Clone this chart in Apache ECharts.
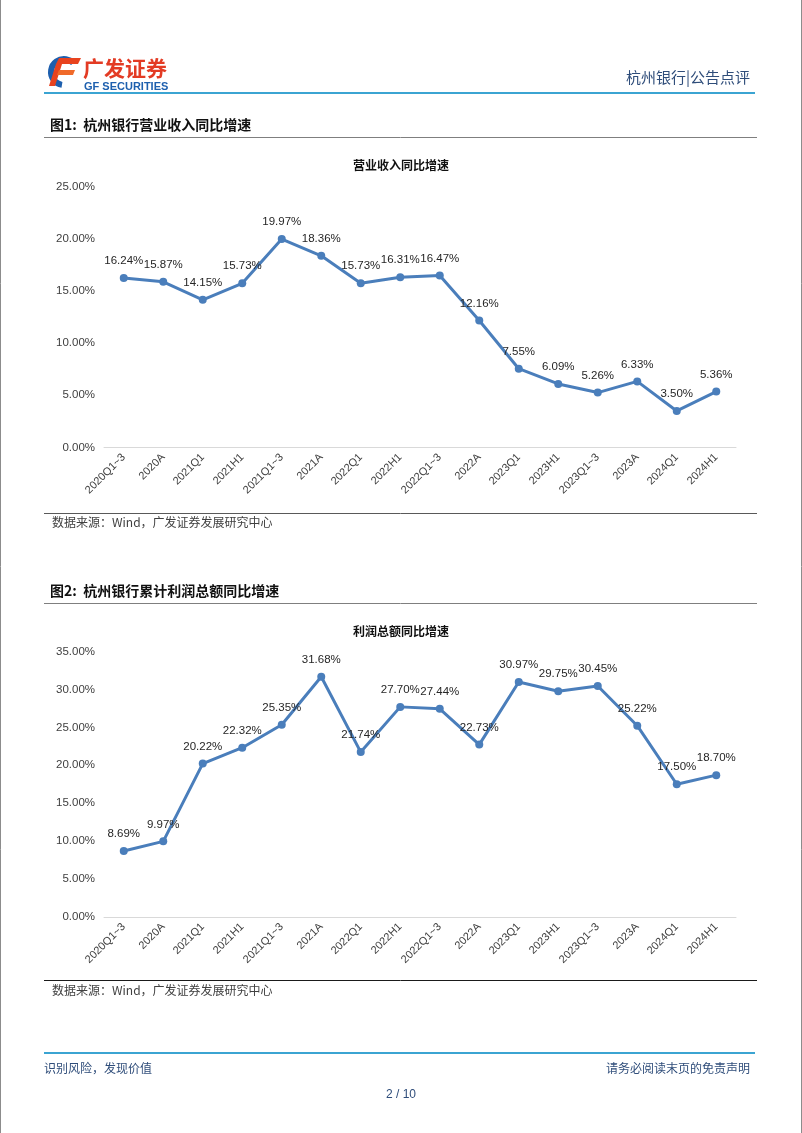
<!DOCTYPE html>
<html>
<head>
<meta charset="utf-8">
<script src="https://cdn.jsdelivr.net/npm/echarts@6/dist/echarts.min.js"></script>
<style>
html,body{margin:0;padding:0;background:#fff;}
#page{width:802px;height:1133px;}
</style>
</head>
<body>
<div id="page"></div>
<script>
// ---- data ----
var categories = ['2020Q1~3','2020A','2021Q1','2021H1','2021Q1~3','2021A','2022Q1','2022H1','2022Q1~3','2022A','2023Q1','2023H1','2023Q1~3','2023A','2024Q1','2024H1'];
var revenueGrowth = [16.24,15.87,14.15,15.73,19.97,18.36,15.73,16.31,16.47,12.16,7.55,6.09,5.26,6.33,3.50,5.36];
var profitGrowth = [8.69,9.97,20.22,22.32,25.35,31.68,21.74,27.70,27.44,22.73,30.97,29.75,30.45,25.22,17.50,18.70];
var chart1Title = '营业收入同比增速';
var chart2Title = '利润总额同比增速';
var fig1Heading = '图1:  杭州银行营业收入同比增速';
var fig2Heading = '图2:  杭州银行累计利润总额同比增速';
var sourceText = '数据来源：Wind，广发证券发展研究中心';

var LINE = '#4a7ebb';
var SANS = '"Liberation Sans", Arial, sans-serif';
var CJK = '"Noto Sans CJK SC", sans-serif';

function pct(v){ return v.toFixed(2) + '%'; }

function xAxisCfg(gi){
  return {
    type:'category', gridIndex:gi, data:categories, boundaryGap:true,
    axisLine:{show:true, lineStyle:{color:'#d9d9d9', width:1}},
    axisTick:{show:false},
    axisLabel:{interval:0, rotate:45, fontSize:11, color:'#404040', fontFamily:SANS, margin:8}
  };
}
function yAxisCfg(gi, max){
  return {
    type:'value', gridIndex:gi, min:0, max:max, interval:5,
    splitLine:{show:false}, axisLine:{show:false}, axisTick:{show:false},
    axisLabel:{formatter:function(v){return pct(v);}, fontSize:11.5, color:'#404040', fontFamily:SANS, margin:9}
  };
}
function seriesCfg(i, data){
  return {
    type:'line', xAxisIndex:i, yAxisIndex:i, data:data,
    symbol:'circle', symbolSize:8, showAllSymbol:true,
    lineStyle:{color:LINE, width:3}, itemStyle:{color:LINE},
    label:{show:true, position:'top', distance:7, formatter:function(p){return pct(p.value);},
      fontSize:11.5, color:'#262626', fontFamily:SANS},
    animation:false
  };
}

var chart = echarts.init(document.getElementById('page'), null, {renderer:'canvas'});

var graphics = [
  // page borders
  {type:'line', shape:{x1:0.5,y1:0,x2:0.5,y2:1133}, style:{stroke:'#8c8c8c', lineWidth:1}},
  {type:'line', shape:{x1:801.5,y1:0,x2:801.5,y2:1133}, style:{stroke:'#8c8c8c', lineWidth:1}},
  // logo icon
  {type:'sector', shape:{cx:64, cy:72, r:16, r0:10, startAngle:Math.PI*0.55, endAngle:Math.PI*1.75}, style:{fill:'#1d5fae'}},
  {type:'polygon', shape:{points:[[59,58],[81,58],[78,64],[56,64]]}, style:{fill:'#e8431f'}},
  {type:'polygon', shape:{points:[[56,64],[62,64],[55,86],[49,86]]}, style:{fill:'#e8431f'}},
  {type:'polygon', shape:{points:[[59,70],[75,70],[73,75],[57,75]]}, style:{fill:'#f06a2a'}},
  {type:'text', left:83, top:58, style:{text:'广发证券', font:'bold 21px "Noto Sans CJK SC"', fill:'#e33b24'}},
  {type:'text', left:84, top:81, style:{text:'GF SECURITIES', font:'bold 11px "Liberation Sans", Arial', fill:'#1d5fae'}},
  // header right
  {type:'text', right:52, top:70, style:{text:'杭州银行|公告点评', font:'15px "Noto Sans CJK SC"', fill:'#2f4d7a'}},
  {type:'line', shape:{x1:44,y1:93,x2:755,y2:93}, style:{stroke:'#3ba4d2', lineWidth:2}},
  // fig1 heading
  {type:'text', left:50, top:118, style:{text:fig1Heading, font:'bold 14px "Noto Sans CJK SC"', fill:'#111'}},
  {type:'line', shape:{x1:44,y1:137.5,x2:757,y2:137.5}, style:{stroke:'#7f7f7f', lineWidth:1}},
  {type:'line', shape:{x1:44,y1:513.5,x2:757,y2:513.5}, style:{stroke:'#595959', lineWidth:1}},
  {type:'text', left:52, top:516, style:{text:sourceText, font:'12px "Noto Sans CJK SC"', fill:'#404040'}},
  // fig2 heading
  {type:'text', left:50, top:584, style:{text:fig2Heading, font:'bold 14px "Noto Sans CJK SC"', fill:'#111'}},
  {type:'line', shape:{x1:44,y1:603.5,x2:757,y2:603.5}, style:{stroke:'#7f7f7f', lineWidth:1}},
  {type:'line', shape:{x1:44,y1:980.5,x2:757,y2:980.5}, style:{stroke:'#1a1a1a', lineWidth:1}},
  {type:'text', left:52, top:984, style:{text:sourceText, font:'12px "Noto Sans CJK SC"', fill:'#404040'}},
  // footer
  {type:'line', shape:{x1:44,y1:1053,x2:755,y2:1053}, style:{stroke:'#3ba4d2', lineWidth:2}},
  {type:'text', left:44, top:1062, style:{text:'识别风险，发现价值', font:'12px "Noto Sans CJK SC"', fill:'#2f4d7a'}},
  {type:'text', right:52, top:1062, style:{text:'请务必阅读末页的免责声明', font:'12px "Noto Sans CJK SC"', fill:'#2f4d7a'}},
  {type:'text', left:'center', top:1089, style:{text:'2 / 10', font:'12px "Liberation Sans", Arial', fill:'#2f4d7a'}}
];

chart.setOption({
  animation:false,
  backgroundColor:'#ffffff',
  title:[
    {text:chart1Title, left:'center', top:154, textStyle:{fontSize:12, fontWeight:'bold', color:'#111', fontFamily:CJK}},
    {text:chart2Title, left:'center', top:620, textStyle:{fontSize:12, fontWeight:'bold', color:'#111', fontFamily:CJK}}
  ],
  grid:[
    {left:104, top:186.5, width:632, height:261},
    {left:104, top:651.5, width:632, height:265.5}
  ],
  xAxis:[xAxisCfg(0), xAxisCfg(1)],
  yAxis:[yAxisCfg(0,25), yAxisCfg(1,35)],
  series:[seriesCfg(0, revenueGrowth), seriesCfg(1, profitGrowth)],
  graphic:graphics
});
</script>
</body>
</html>
